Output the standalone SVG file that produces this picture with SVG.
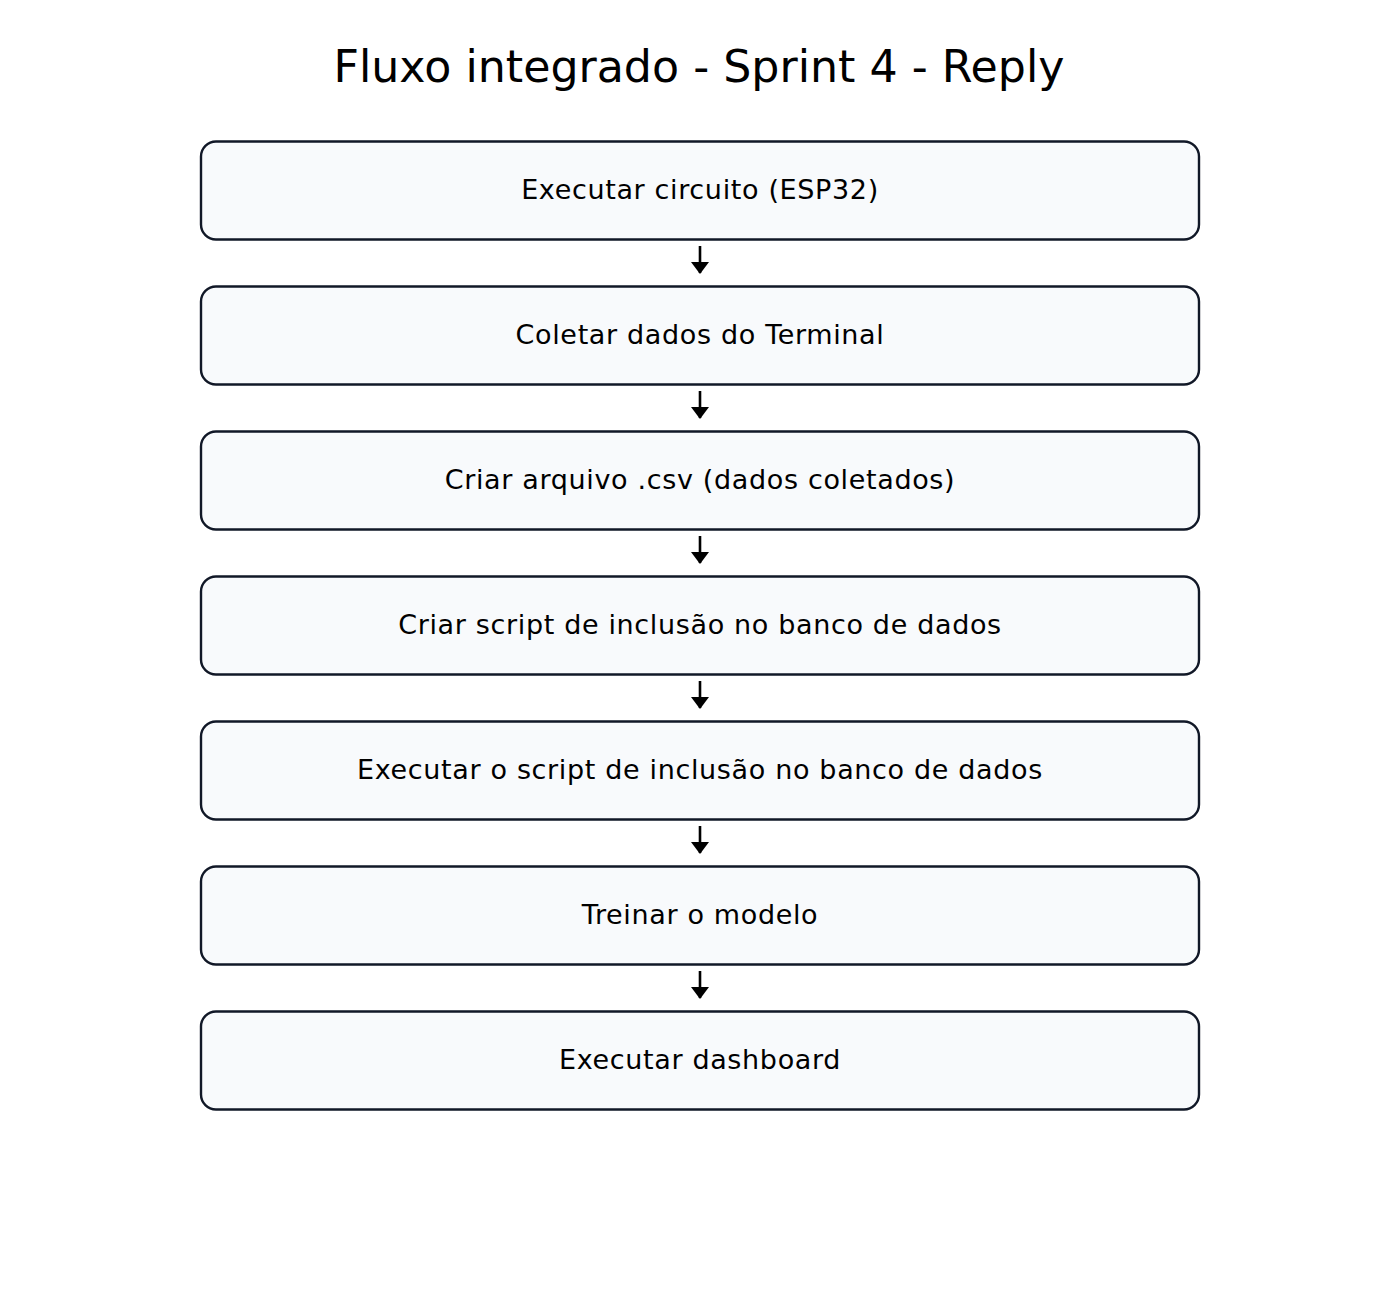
<svg xmlns="http://www.w3.org/2000/svg" width="1400" height="1300" viewBox="0 0 1400 1300">
<defs>
<style>
.box{fill:#f8fafc;stroke:#111827;stroke-width:2.4}
.lbl{font-family:"DejaVu Sans",sans-serif;font-size:27px;letter-spacing:0.65px;fill:#000;text-anchor:middle}
.title{font-family:"DejaVu Sans",sans-serif;font-size:44.3px;fill:#000;text-anchor:middle}
.conn{stroke:#000;stroke-width:2.6;fill:none}
</style>
<marker id="ah" markerWidth="12" markerHeight="18" refX="11" refY="9" orient="auto" markerUnits="userSpaceOnUse" viewBox="0 0 12 18">
<path d="M0,0 L12,9 L0,18 Z" fill="#000"/>
</marker>
</defs>
<rect width="1400" height="1300" fill="#fff"/>
<text class="title" x="699" y="82">Fluxo integrado - Sprint 4 - Reply</text>
<g id="connectors">
<line class="conn" x1="700" y1="246" x2="700" y2="273" marker-end="url(#ah)"/>
<line class="conn" x1="700" y1="391" x2="700" y2="418" marker-end="url(#ah)"/>
<line class="conn" x1="700" y1="536" x2="700" y2="563" marker-end="url(#ah)"/>
<line class="conn" x1="700" y1="681" x2="700" y2="708" marker-end="url(#ah)"/>
<line class="conn" x1="700" y1="826" x2="700" y2="853" marker-end="url(#ah)"/>
<line class="conn" x1="700" y1="971" x2="700" y2="998" marker-end="url(#ah)"/>
</g>
<g id="n1"><rect class="box" x="201" y="141.5" width="998" height="98" rx="15"/><text class="lbl" x="700" y="199">Executar circuito (ESP32)</text></g>
<g id="n2"><rect class="box" x="201" y="286.5" width="998" height="98" rx="15"/><text class="lbl" x="700" y="344">Coletar dados do Terminal</text></g>
<g id="n3"><rect class="box" x="201" y="431.5" width="998" height="98" rx="15"/><text class="lbl" x="700" y="489">Criar arquivo .csv (dados coletados)</text></g>
<g id="n4"><rect class="box" x="201" y="576.5" width="998" height="98" rx="15"/><text class="lbl" x="700" y="634">Criar script de inclusão no banco de dados</text></g>
<g id="n5"><rect class="box" x="201" y="721.5" width="998" height="98" rx="15"/><text class="lbl" x="700" y="779">Executar o script de inclusão no banco de dados</text></g>
<g id="n6"><rect class="box" x="201" y="866.5" width="998" height="98" rx="15"/><text class="lbl" x="700" y="924">Treinar o modelo</text></g>
<g id="n7"><rect class="box" x="201" y="1011.5" width="998" height="98" rx="15"/><text class="lbl" x="700" y="1069">Executar dashboard</text></g>
</svg>
